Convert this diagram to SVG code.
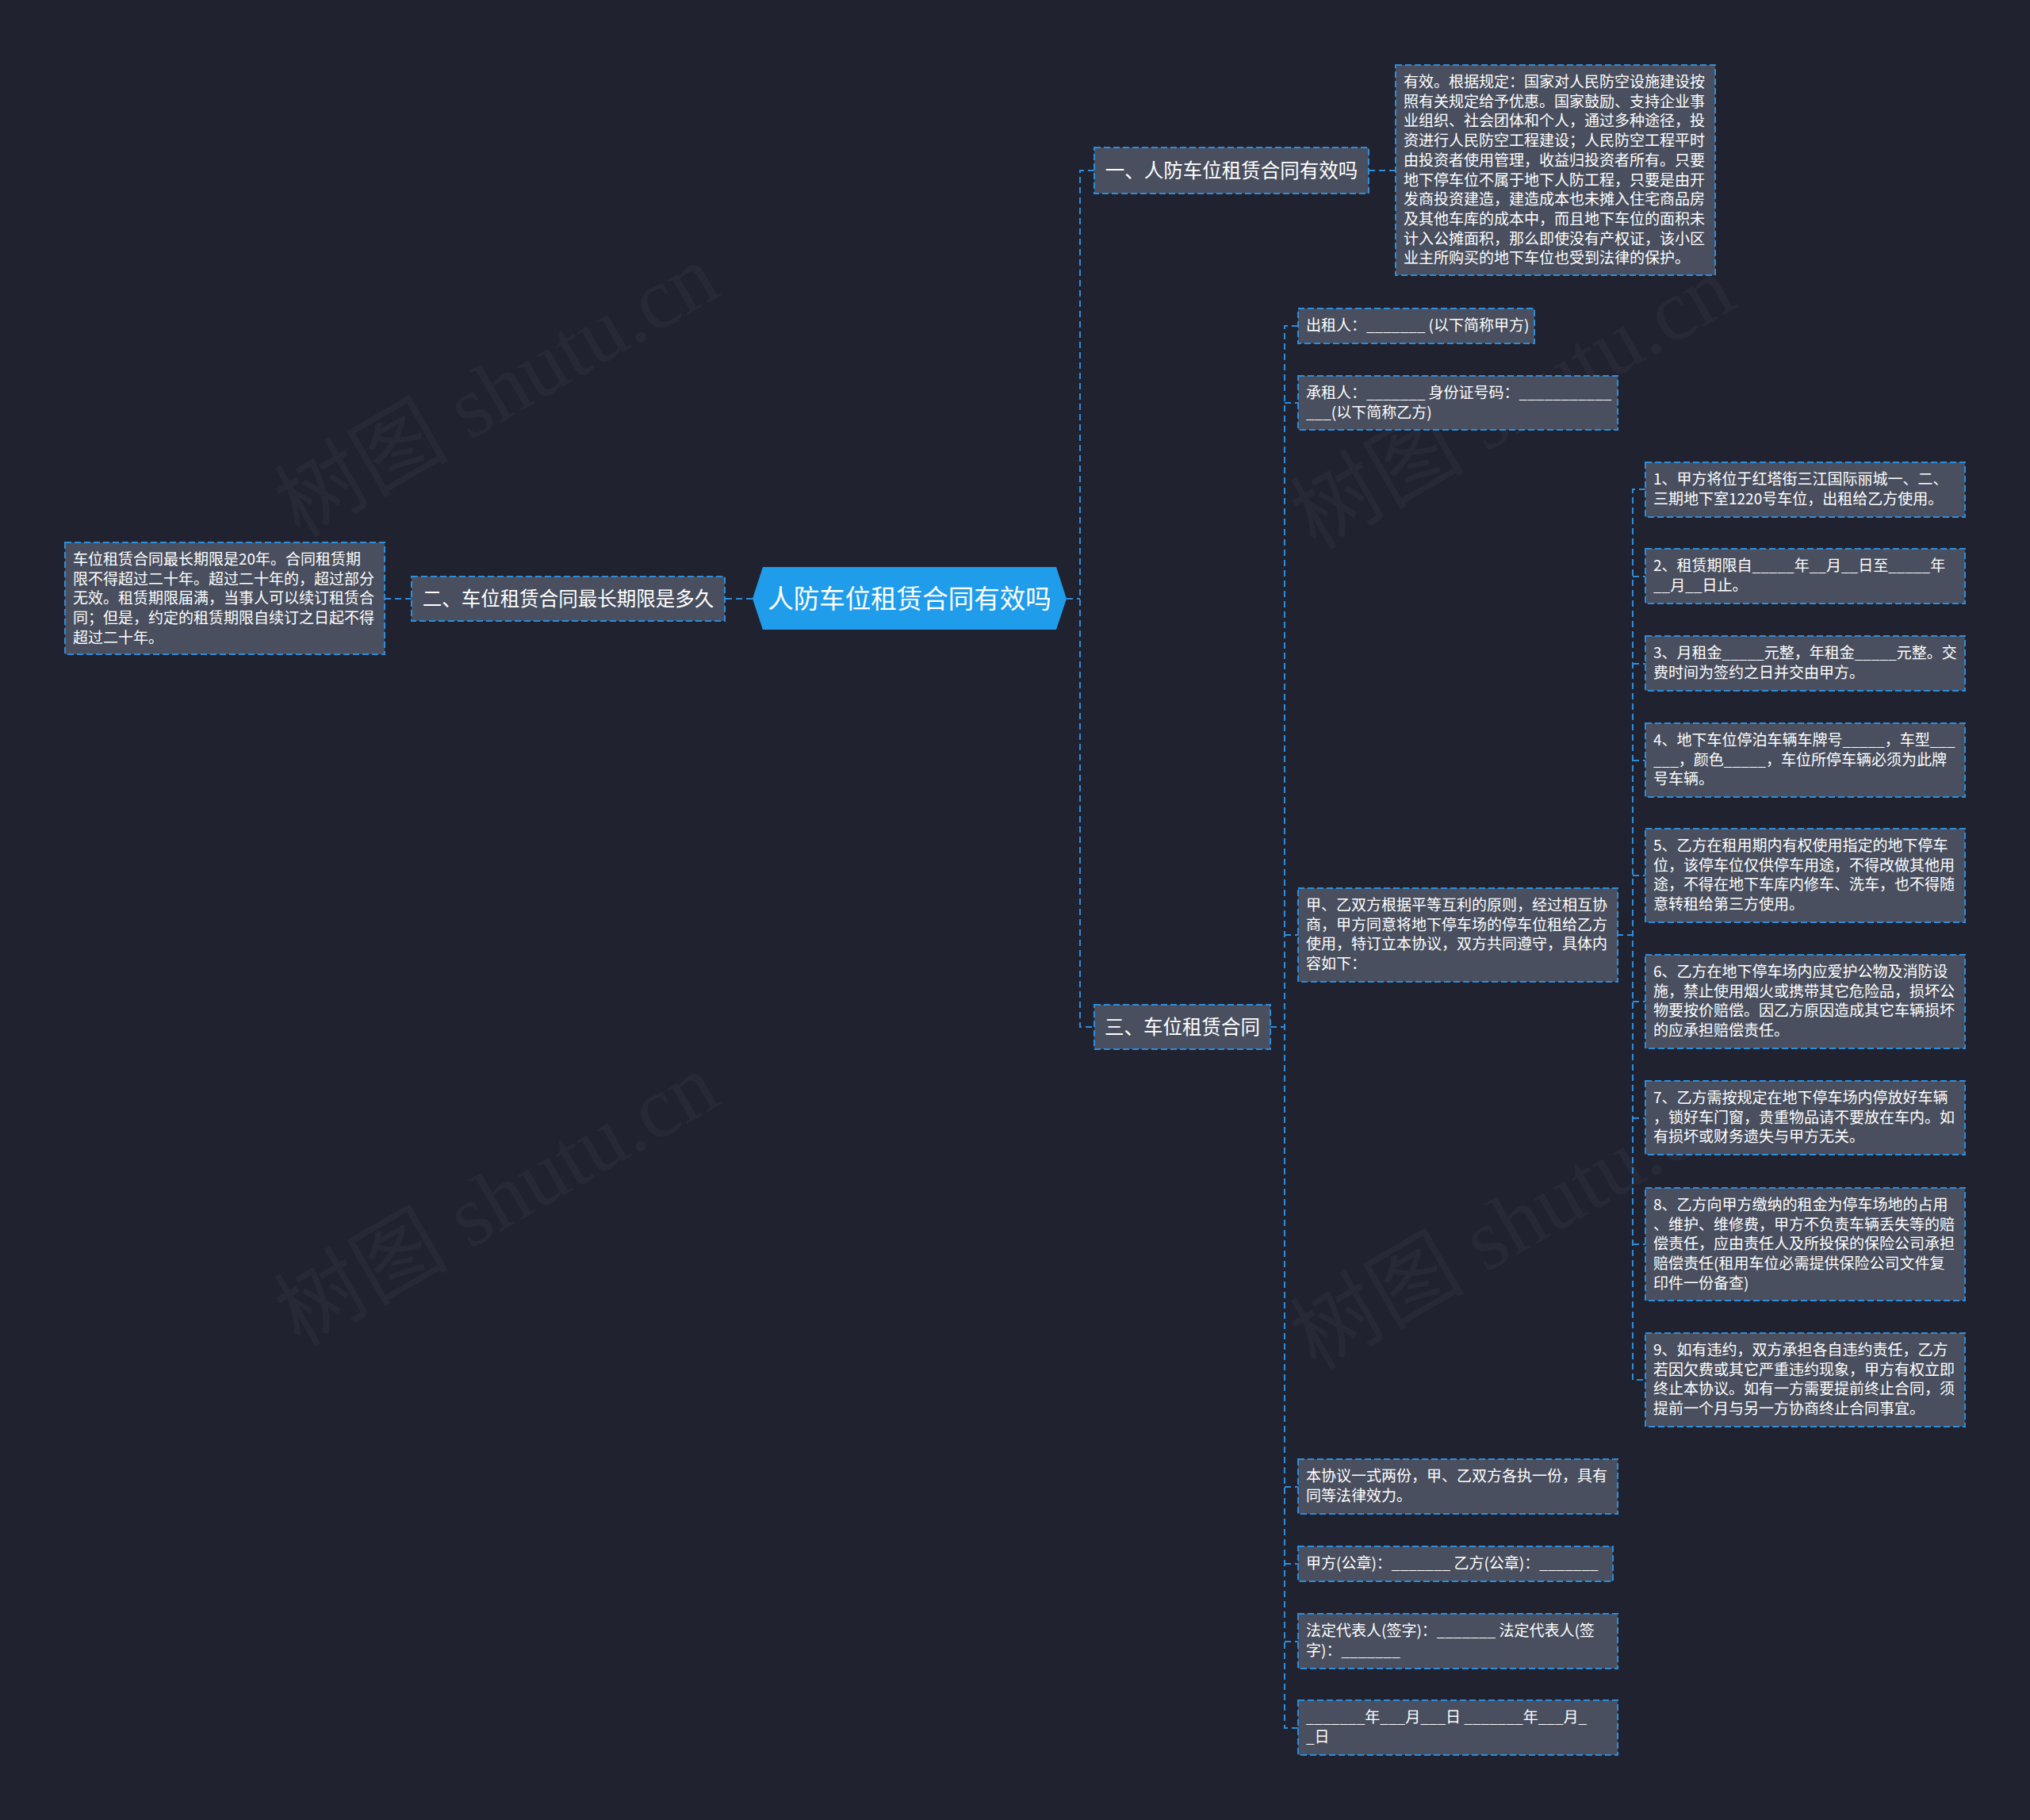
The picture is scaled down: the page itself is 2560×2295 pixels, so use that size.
<svg xmlns="http://www.w3.org/2000/svg" width="2560" height="2295" viewBox="0 0 2560 2295">
<style>
.bg{fill:#20232f}
.wm{fill:#ffffff;fill-opacity:0.035;font-family:"Liberation Serif","Noto Sans CJK SC",serif;font-size:110px;text-anchor:middle}
.n{fill:#494f5e;stroke:#2b8ddc;stroke-width:2;stroke-dasharray:8 4}
.t{fill:#ffffff;font-family:"Noto Sans CJK SC","Noto Sans",sans-serif;font-size:19px}
.bt{fill:#ffffff;font-family:"Noto Sans CJK SC","Noto Sans",sans-serif;font-size:24.5px;text-anchor:middle}
.ct{fill:#ffffff;font-family:"Noto Sans CJK SC","Noto Sans",sans-serif;font-size:32.5px;text-anchor:middle}
.c{fill:none;stroke:#2b8ddc;stroke-width:2;stroke-dasharray:8 5}
</style>
<rect class="bg" x="0" y="0" width="2560" height="2295"/>
<g id="watermarks">
<text class="wm" transform="translate(645,525) rotate(-30)">树图 shutu.cn</text>
<text class="wm" transform="translate(1926,540) rotate(-30)">树图 shutu.cn</text>
<text class="wm" transform="translate(645,1545) rotate(-30)">树图 shutu.cn</text>
<text class="wm" transform="translate(1926,1575) rotate(-30)">树图 shutu.cn</text>
</g>
<g id="connectors">
<path class="c" d="M949,755 H914"/>
<path class="c" d="M519,755 H485"/>
<path class="c" d="M1345,755 H1362 M1380,215 H1362 V1295 H1380"/>
<path class="c" d="M1726,215 H1760"/>
<path class="c" d="M1602,1295 H1620 M1637,411 H1620 V2179 H1637 M1620,508 H1637 M1620,1179 H1637 M1620,1875 H1637 M1620,1972 H1637 M1620,2070 H1637"/>
<path class="c" d="M2039,1179 H2059 M2075,617 H2059 V1740 H2075 M2059,727 H2075 M2059,837 H2075 M2059,959 H2075 M2059,1104 H2075 M2059,1263 H2075 M2059,1410 H2075 M2059,1569 H2075"/>
</g>
<g id="center">
<polygon points="949,755 962,715 1332,715 1345,755 1332,794 962,794" fill="#1f9cea"/>
<text class="ct" x="1147" y="767">人防车位租赁合同有效吗</text>
</g>
<g id="branch1">
<rect class="n" x="1380" y="186" width="346" height="58"/>
<text class="bt" x="1553" y="224">一、人防车位租赁合同有效吗</text>
</g>
<g id="detail1">
<rect class="n" x="1760" y="82" width="403" height="265"/>
<text class="t" x="1770" y="110"><tspan x="1770">有效。根据规定：国家对人民防空设施建设按</tspan><tspan x="1770" dy="24.7">照有关规定给予优惠。国家鼓励、支持企业事</tspan><tspan x="1770" dy="24.7">业组织、社会团体和个人，通过多种途径，投</tspan><tspan x="1770" dy="24.7">资进行人民防空工程建设；人民防空工程平时</tspan><tspan x="1770" dy="24.7">由投资者使用管理，收益归投资者所有。只要</tspan><tspan x="1770" dy="24.7">地下停车位不属于地下人防工程，只要是由开</tspan><tspan x="1770" dy="24.7">发商投资建造，建造成本也未摊入住宅商品房</tspan><tspan x="1770" dy="24.7">及其他车库的成本中，而且地下车位的面积未</tspan><tspan x="1770" dy="24.7">计入公摊面积，那么即使没有产权证，该小区</tspan><tspan x="1770" dy="24.7">业主所购买的地下车位也受到法律的保护。</tspan></text>
</g>
<g id="branch2">
<rect class="n" x="519" y="727" width="395" height="56"/>
<text class="bt" x="716.5" y="764">二、车位租赁合同最长期限是多久</text>
</g>
<g id="detail2">
<rect class="n" x="82" y="684" width="403" height="141"/>
<text class="t" x="92" y="712"><tspan x="92">车位租赁合同最长期限是20年。合同租赁期</tspan><tspan x="92" dy="24.7">限不得超过二十年。超过二十年的，超过部分</tspan><tspan x="92" dy="24.7">无效。租赁期限届满，当事人可以续订租赁合</tspan><tspan x="92" dy="24.7">同；但是，约定的租赁期限自续订之日起不得</tspan><tspan x="92" dy="24.7">超过二十年。</tspan></text>
</g>
<g id="branch3">
<rect class="n" x="1380" y="1267" width="222" height="56"/>
<text class="bt" x="1491" y="1304">三、车位租赁合同</text>
</g>
<g id="lessor">
<rect class="n" x="1637" y="389" width="298" height="44"/>
<text class="t" x="1647" y="417">出租人：_______ (以下简称甲方)</text>
</g>
<g id="lessee">
<rect class="n" x="1637" y="474" width="403" height="68"/>
<text class="t" x="1647" y="502"><tspan x="1647">承租人：_______ 身份证号码：___________</tspan><tspan x="1647" dy="24.7">___(以下简称乙方)</tspan></text>
</g>
<g id="agreement">
<rect class="n" x="1637" y="1120" width="403" height="118"/>
<text class="t" x="1647" y="1148"><tspan x="1647">甲、乙双方根据平等互利的原则，经过相互协</tspan><tspan x="1647" dy="24.7">商，甲方同意将地下停车场的停车位租给乙方</tspan><tspan x="1647" dy="24.7">使用，特订立本协议，双方共同遵守，具体内</tspan><tspan x="1647" dy="24.7">容如下：</tspan></text>
</g>
<g id="item1">
<rect class="n" x="2075" y="583" width="403" height="69"/>
<text class="t" x="2085" y="611"><tspan x="2085">1、甲方将位于红塔街三江国际丽城一、二、</tspan><tspan x="2085" dy="24.7">三期地下室1220号车位，出租给乙方使用。</tspan></text>
</g>
<g id="item2">
<rect class="n" x="2075" y="692" width="403" height="69"/>
<text class="t" x="2085" y="720"><tspan x="2085">2、租赁期限自_____年__月__日至_____年</tspan><tspan x="2085" dy="24.7">__月__日止。</tspan></text>
</g>
<g id="item3">
<rect class="n" x="2075" y="802" width="403" height="69"/>
<text class="t" x="2085" y="830"><tspan x="2085">3、月租金_____元整，年租金_____元整。交</tspan><tspan x="2085" dy="24.7">费时间为签约之日并交由甲方。</tspan></text>
</g>
<g id="item4">
<rect class="n" x="2075" y="912" width="403" height="93"/>
<text class="t" x="2085" y="940"><tspan x="2085">4、地下车位停泊车辆车牌号_____，车型___</tspan><tspan x="2085" dy="24.7">___，颜色_____，车位所停车辆必须为此牌</tspan><tspan x="2085" dy="24.7">号车辆。</tspan></text>
</g>
<g id="item5">
<rect class="n" x="2075" y="1045" width="403" height="118"/>
<text class="t" x="2085" y="1073"><tspan x="2085">5、乙方在租用期内有权使用指定的地下停车</tspan><tspan x="2085" dy="24.7">位，该停车位仅供停车用途，不得改做其他用</tspan><tspan x="2085" dy="24.7">途，不得在地下车库内修车、洗车，也不得随</tspan><tspan x="2085" dy="24.7">意转租给第三方使用。</tspan></text>
</g>
<g id="item6">
<rect class="n" x="2075" y="1204" width="403" height="118"/>
<text class="t" x="2085" y="1232"><tspan x="2085">6、乙方在地下停车场内应爱护公物及消防设</tspan><tspan x="2085" dy="24.7">施，禁止使用烟火或携带其它危险品，损坏公</tspan><tspan x="2085" dy="24.7">物要按价赔偿。因乙方原因造成其它车辆损坏</tspan><tspan x="2085" dy="24.7">的应承担赔偿责任。</tspan></text>
</g>
<g id="item7">
<rect class="n" x="2075" y="1363" width="403" height="93"/>
<text class="t" x="2085" y="1391"><tspan x="2085">7、乙方需按规定在地下停车场内停放好车辆</tspan><tspan x="2085" dy="24.7">，锁好车门窗，贵重物品请不要放在车内。如</tspan><tspan x="2085" dy="24.7">有损坏或财务遗失与甲方无关。</tspan></text>
</g>
<g id="item8">
<rect class="n" x="2075" y="1498" width="403" height="142"/>
<text class="t" x="2085" y="1526"><tspan x="2085">8、乙方向甲方缴纳的租金为停车场地的占用</tspan><tspan x="2085" dy="24.7">、维护、维修费，甲方不负责车辆丢失等的赔</tspan><tspan x="2085" dy="24.7">偿责任，应由责任人及所投保的保险公司承担</tspan><tspan x="2085" dy="24.7">赔偿责任(租用车位必需提供保险公司文件复</tspan><tspan x="2085" dy="24.7">印件一份备查)</tspan></text>
</g>
<g id="item9">
<rect class="n" x="2075" y="1681" width="403" height="118"/>
<text class="t" x="2085" y="1709"><tspan x="2085">9、如有违约，双方承担各自违约责任，乙方</tspan><tspan x="2085" dy="24.7">若因欠费或其它严重违约现象，甲方有权立即</tspan><tspan x="2085" dy="24.7">终止本协议。如有一方需要提前终止合同，须</tspan><tspan x="2085" dy="24.7">提前一个月与另一方协商终止合同事宜。</tspan></text>
</g>
<g id="copies">
<rect class="n" x="1637" y="1840" width="403" height="69"/>
<text class="t" x="1647" y="1868"><tspan x="1647">本协议一式两份，甲、乙双方各执一份，具有</tspan><tspan x="1647" dy="24.7">同等法律效力。</tspan></text>
</g>
<g id="seals">
<rect class="n" x="1637" y="1950" width="397" height="44"/>
<text class="t" x="1647" y="1978">甲方(公章)：_______ 乙方(公章)：_______</text>
</g>
<g id="signatures">
<rect class="n" x="1637" y="2035" width="403" height="69"/>
<text class="t" x="1647" y="2063"><tspan x="1647">法定代表人(签字)：_______ 法定代表人(签</tspan><tspan x="1647" dy="24.7">字)：_______</tspan></text>
</g>
<g id="dates">
<rect class="n" x="1637" y="2144" width="403" height="69"/>
<text class="t" x="1647" y="2172"><tspan x="1647">_______年___月___日 _______年___月_</tspan><tspan x="1647" dy="24.7">_日</tspan></text>
</g>
</svg>
